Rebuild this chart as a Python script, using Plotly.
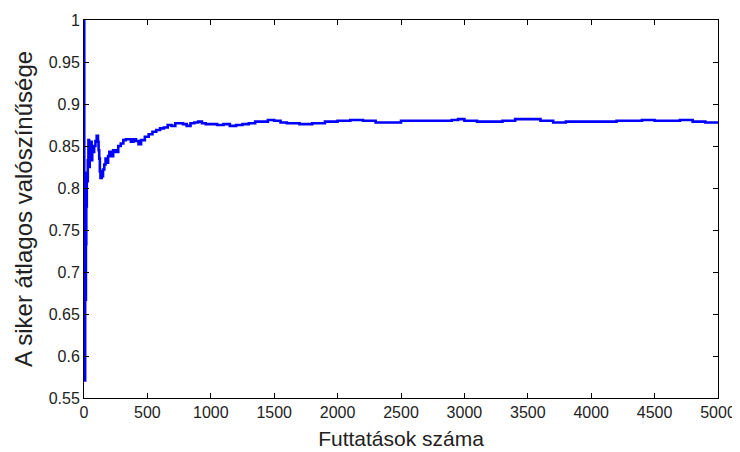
import plotly.graph_objects as go

# Number of runs (x) and running average success probability (y)
runs = [1, 2, 3, 5, 7, 9, 12, 15, 18, 22, 26, 30, 35, 40, 45, 50, 55, 60, 65, 70,
        80, 90, 100, 110, 115, 120, 125, 130, 140, 150, 160, 170, 180, 190, 200,
        215, 230, 250, 270, 290, 310, 330, 350, 370, 390, 410, 430, 450, 480, 510,
        540, 570, 600, 630, 660, 690, 720, 750, 780, 810, 840, 870, 900, 930, 960,
        1000, 1050, 1100, 1150, 1200, 1250, 1300, 1350, 1400, 1450, 1500, 1550,
        1600, 1700, 1800, 1900, 2000, 2100, 2200, 2300, 2400, 2500, 2600, 2700,
        2800, 2900, 2950, 3000, 3100, 3200, 3300, 3400, 3500, 3600, 3700, 3800,
        3900, 4000, 4100, 4200, 4300, 4400, 4500, 4600, 4700, 4800, 4900, 5000]

avg_success = [1.0, 0.667, 0.6, 0.6, 0.571, 0.667, 0.667, 0.733, 0.778, 0.818,
               0.808, 0.833, 0.857, 0.825, 0.844, 0.84, 0.855, 0.833, 0.846, 0.843,
               0.85, 0.856, 0.862, 0.855, 0.845, 0.835, 0.82, 0.812, 0.814, 0.822,
               0.828, 0.835, 0.83, 0.838, 0.843, 0.838, 0.845, 0.843, 0.85, 0.853,
               0.857, 0.858, 0.858, 0.855, 0.858, 0.856, 0.852, 0.857, 0.861, 0.864,
               0.867, 0.869, 0.871, 0.872, 0.875, 0.874, 0.877, 0.877, 0.876, 0.874,
               0.877, 0.878, 0.879, 0.877, 0.876, 0.876, 0.875, 0.876, 0.874, 0.875,
               0.876, 0.877, 0.879, 0.879, 0.881, 0.880, 0.878, 0.877, 0.876, 0.877,
               0.879, 0.880, 0.881, 0.880, 0.878, 0.878, 0.880, 0.880, 0.880, 0.880,
               0.881, 0.882, 0.880, 0.879, 0.879, 0.880, 0.882, 0.882, 0.880, 0.878,
               0.879, 0.879, 0.879, 0.879, 0.880, 0.880, 0.881, 0.880, 0.880, 0.881,
               0.879, 0.878, 0.877]

x_ticks = [0, 500, 1000, 1500, 2000, 2500, 3000, 3500, 4000, 4500, 5000]
y_ticks = [0.55, 0.6, 0.65, 0.7, 0.75, 0.8, 0.85, 0.9, 0.95, 1]
y_tick_text = ["0.55", "0.6", "0.65", "0.7", "0.75", "0.8", "0.85", "0.9", "0.95", "1"]

x_title = "Futtatások száma"
y_title = "A siker átlagos valószínűsége"

fig = go.Figure()
fig.add_trace(go.Scatter(x=runs, y=avg_success, mode="lines",
                         line=dict(color="#0000FF", width=2.6, shape="hv"),
                         showlegend=False))

font_name = "Liberation Sans, Arial, sans-serif"
axis_common = dict(showgrid=False, zeroline=False, showline=True, linecolor="black",
                   linewidth=1, mirror="ticks", ticks="inside", ticklen=5,
                   tickcolor="black", tickwidth=1,
                   tickfont=dict(family=font_name, size=16, color="#222222"))

fig.update_xaxes(range=[0, 5000], tickvals=x_ticks, **axis_common,
                 title=dict(text=x_title, font=dict(family=font_name, size=21, color="#222222"),
                            standoff=11))
fig.update_yaxes(range=[0.55, 1], tickvals=y_ticks, ticktext=y_tick_text, **axis_common,
                 title=dict(text=y_title, font=dict(family=font_name, size=24, color="#222222"),
                            standoff=9))

# page body has an 8px margin, so the figure is offset by 8px
fig.update_layout(width=732, height=444,
                  margin=dict(l=76, r=22, t=12, b=54, autoexpand=False),
                  paper_bgcolor="white", plot_bgcolor="white")

fig.write_html("out.html")
